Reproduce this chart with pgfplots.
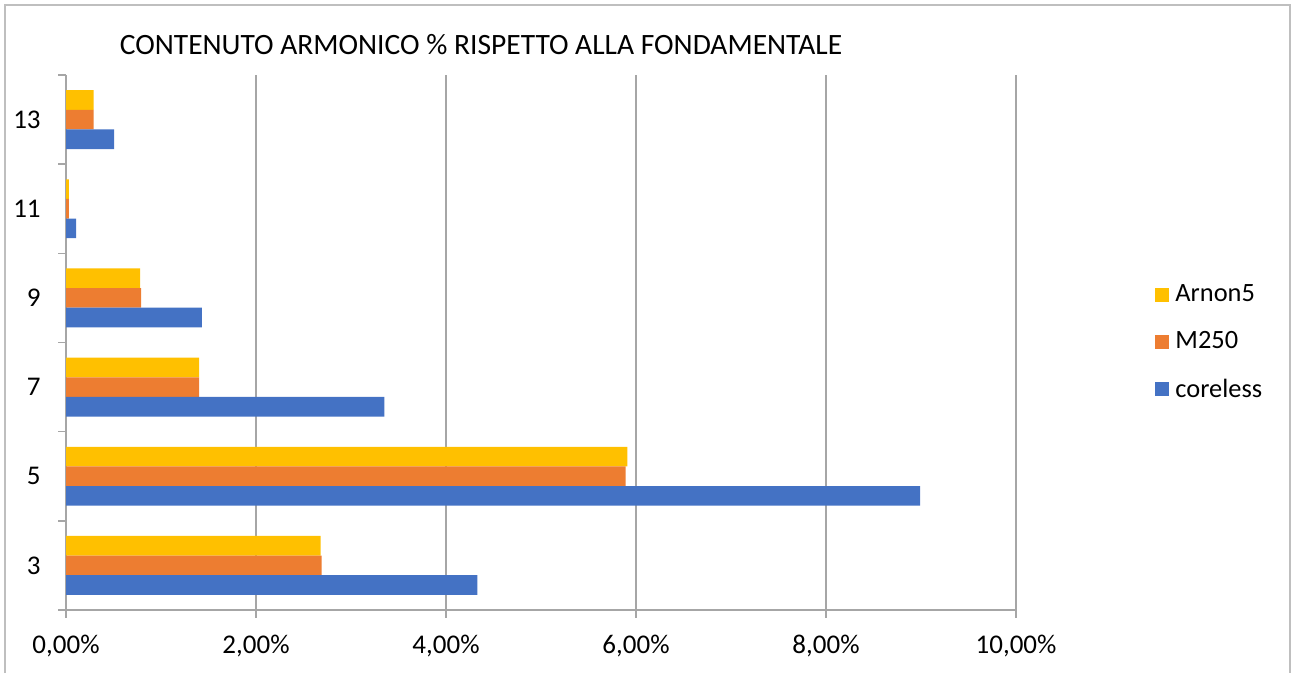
\documentclass[border=0pt]{standalone}
\usepackage{pgfplots}
\pgfplotsset{compat=1.18}
\usepackage{fontspec}
\setmainfont{Carlito}

\definecolor{coreless}{HTML}{4472C4}
\definecolor{mduecinquanta}{HTML}{ED7D31}
\definecolor{arnon}{HTML}{FFC000}
\definecolor{gridgray}{HTML}{A6A6A6}
\definecolor{framegray}{HTML}{BFBFBF}

\begin{document}
\begin{tikzpicture}
\begin{axis}[
    scale only axis,
    width=475pt, height=267.5pt,
    xmin=0, xmax=10,
    ymin=-0.5, ymax=5.5,
    clip=false,
    axis lines*=left,
    axis line style={gridgray, line width=0.8pt},
    font=\fontsize{13.5}{16}\selectfont,
    xtick={0,2,...,10},
    xticklabels={{0,00\%},{2,00\%},{4,00\%},{6,00\%},{8,00\%},{10,00\%}},
    xmajorgrids,
    grid style={gridgray, line width=0.8pt},
    major x tick style={gridgray, line width=0.8pt},
    x tick label style={inner sep=0pt, anchor=north},
    xticklabel shift=8.5pt,
    major tick length=4pt,
    tick align=outside,
    ytick={0,...,5},
    yticklabels={3,5,7,9,11,13},
    major y tick style={draw=none},
    minor ytick={-0.5,0.5,...,5.5},
    minor y tick style={gridgray, line width=0.8pt},
    minor tick length=4pt,
    y tick label style={inner sep=0pt, anchor=east},
    yticklabel shift=8.5pt,
    xbar,
    bar width=0.22,
    legend style={at={(rel axis cs:1.140,0.62)}, anchor=north west, draw=none,
        font=\fontsize{13.2}{15}\selectfont, row sep=11.5pt,
        nodes={inner sep=1pt}},
    legend cell align=left,
    legend image code/.code={\fill[#1] (0pt,-3.5pt) rectangle (7pt,3.5pt); \path (9pt,0pt);},
]
\addplot[fill=arnon, draw=none, bar shift=0.22]
    coordinates {(2.68,0) (5.91,1) (1.40,2) (0.78,3) (0.03,4) (0.29,5)};
\addplot[fill=mduecinquanta, draw=none, bar shift=0]
    coordinates {(2.69,0) (5.89,1) (1.40,2) (0.79,3) (0.03,4) (0.29,5)};
\addplot[fill=coreless, draw=none, bar shift=-0.22]
    coordinates {(4.33,0) (8.99,1) (3.35,2) (1.43,3) (0.105,4) (0.505,5)};
\legend{Arnon5,M250,coreless}

\node[font=\fontsize{14.75}{17}\selectfont] at (rel axis cs:0.4368,1.0561)
    {CONTENUTO ARMONICO \% RISPETTO ALLA FONDAMENTALE};

\coordinate (fbl) at (rel axis cs:-0.0642,-0.1178);
\coordinate (ftl) at (rel axis cs:-0.0642,1.1308);
\coordinate (ftr) at (rel axis cs:1.2884,1.1308);
\coordinate (fbr) at (rel axis cs:1.2884,-0.1178);
\coordinate (bb1) at (rel axis cs:-0.0695,-0.1178);
\coordinate (bb2) at (rel axis cs:1.2905,1.1402);
\end{axis}
\draw[framegray, line width=1pt] (fbl) -- (ftl) -- (ftr) -- (fbr);
\useasboundingbox (bb1) rectangle (bb2);
\end{tikzpicture}
\end{document}
